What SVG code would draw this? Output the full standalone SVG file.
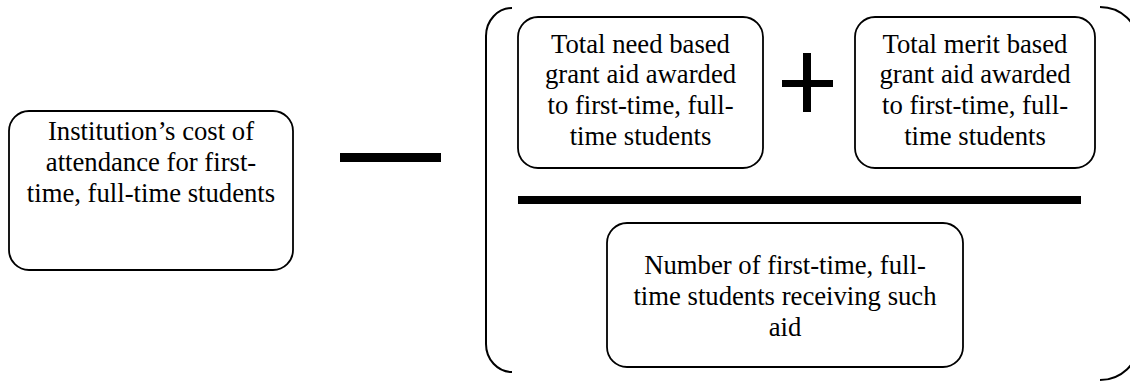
<svg xmlns="http://www.w3.org/2000/svg" width="1130" height="383" viewBox="0 0 1130 383">
  <style>
    .box { fill: #ffffff; stroke: #000000; stroke-width: 1.8; }
    .label { font-family: 'Liberation Serif', 'Times New Roman', 'DejaVu Serif', serif; font-size: 26.7px; fill: #000000; text-anchor: middle; }
    .bracket { fill: none; stroke: #000000; stroke-width: 2; }
    .op { fill: #000000; }
  </style>
  <rect width="1130" height="383" fill="#ffffff"/>

  <!-- cost of attendance -->
  <g id="cost">
    <rect class="box" x="9" y="111" width="284" height="159" rx="20" ry="20"/>
    <text class="label" x="151" y="140">Institution’s cost of</text>
    <text class="label" x="151" y="171">attendance for first-</text>
    <text class="label" x="151" y="202">time, full-time students</text>
  </g>

  <!-- operators and brackets -->
  <g id="operators">
    <rect id="minus" class="op" x="340" y="153" width="101" height="9"/>
    <g id="plus">
      <rect class="op" x="803" y="53" width="8" height="59"/>
      <rect class="op" x="782" y="80" width="51" height="7"/>
    </g>
    <rect id="fraction-bar" class="op" x="518" y="196" width="563" height="8"/>
    <path id="bracket-left" class="bracket" d="M512,8 A26,28 0 0 0 486,36 L486,344 A26,28 0 0 0 512,372"/>
    <path id="bracket-right" class="bracket" d="M1100,7 A38,36 0 0 1 1138,43 L1138,344 A38,36 0 0 1 1100,380"/>
  </g>

  <!-- need based grant aid -->
  <g id="need-aid">
    <rect class="box" x="518" y="17" width="245" height="151" rx="20" ry="20"/>
    <text class="label" x="640.5" y="52.5">Total need based</text>
    <text class="label" x="640.5" y="83.2">grant aid awarded</text>
    <text class="label" x="640.5" y="113.9">to first-time, full-</text>
    <text class="label" x="640.5" y="144.6">time students</text>
  </g>

  <!-- merit based grant aid -->
  <g id="merit-aid">
    <rect class="box" x="855" y="17" width="240" height="151" rx="20" ry="20"/>
    <text class="label" x="975" y="52.5">Total merit based</text>
    <text class="label" x="975" y="83.2">grant aid awarded</text>
    <text class="label" x="975" y="113.9">to first-time, full-</text>
    <text class="label" x="975" y="144.6">time students</text>
  </g>

  <!-- number of recipients -->
  <g id="recipients">
    <rect class="box" x="607" y="223" width="356" height="144" rx="20" ry="20"/>
    <text class="label" x="785" y="274">Number of first-time, full-</text>
    <text class="label" x="785" y="305">time students receiving such</text>
    <text class="label" x="785" y="335.5">aid</text>
  </g>
</svg>
